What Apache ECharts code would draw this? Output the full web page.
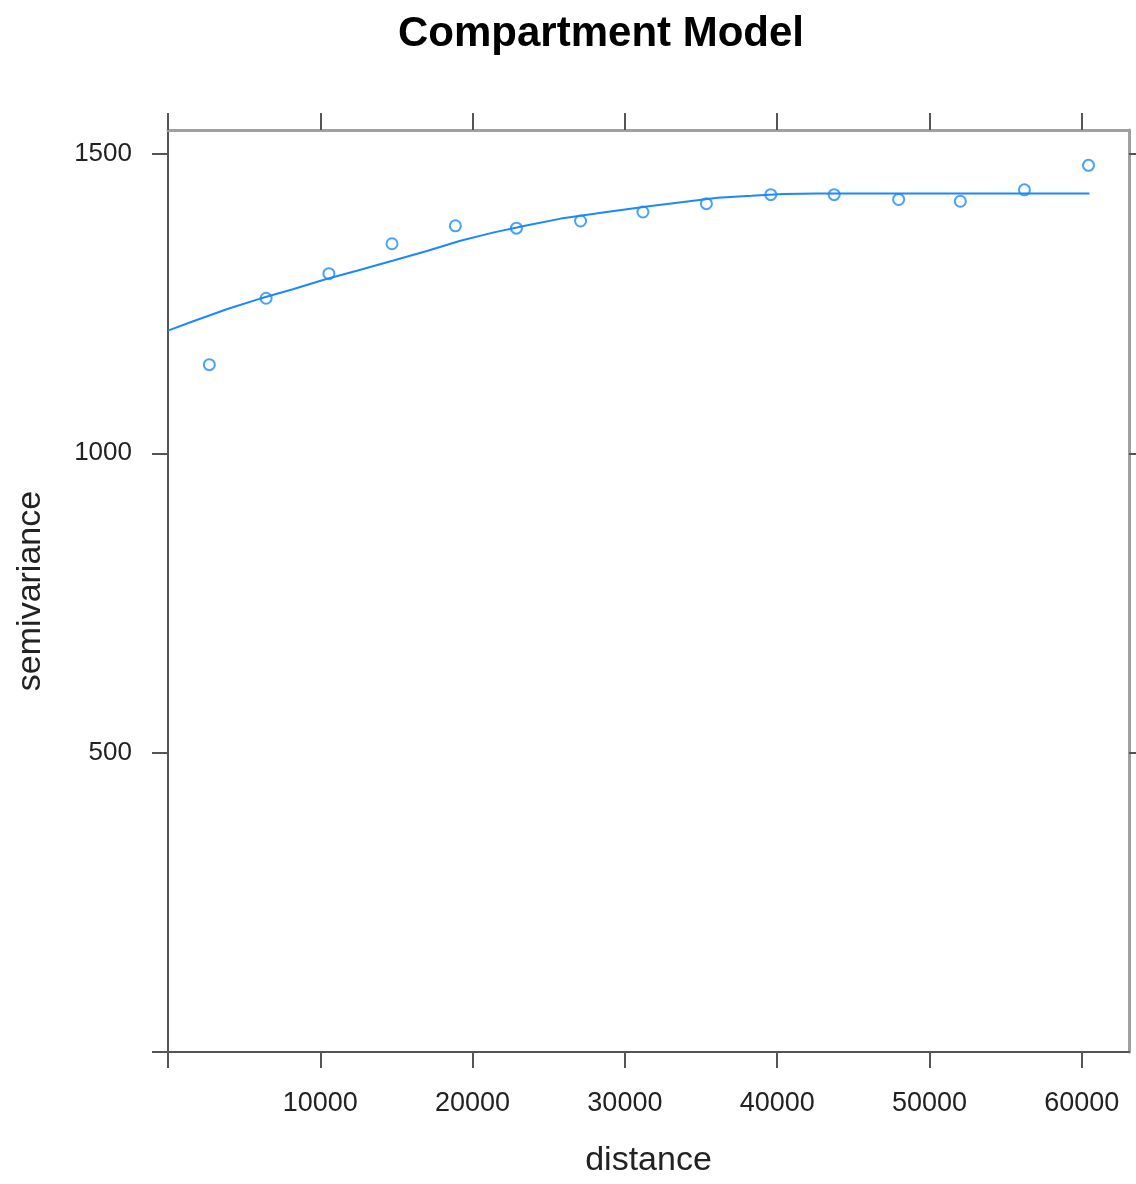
<!DOCTYPE html>
<html>
<head>
<meta charset="utf-8">
<script src="https://cdn.jsdelivr.net/npm/echarts@6/dist/echarts.min.js"></script>
<style>
html,body{margin:0;padding:0;background:#fff;}
#chart{width:1136px;height:1184px;}
</style>
</head>
<body>
<div id="chart"></div>
<script>
// Sample variogram points (distance, semivariance)
const pointDist = [2715, 6443, 10565, 14708, 18869, 22880, 27088, 31184, 35352, 39580, 43741, 47975, 52025, 56233, 60441];
const pointGamma = [1148, 1259, 1300, 1350, 1380, 1376, 1388, 1403, 1417, 1432, 1432, 1424, 1421, 1440, 1481];
// Fitted compartment model curve
const fitDist = [0, 1700, 3900, 6000, 8200, 10400, 12400, 14800, 17000, 19200, 21400, 23600, 25800, 28800, 31700, 34500, 36100, 38300, 40400, 42700, 60500];
const fitGamma = [1205, 1221, 1241, 1258, 1274, 1291, 1305, 1322, 1338, 1355, 1369, 1381, 1392, 1403, 1413, 1422, 1427, 1430, 1433, 1434, 1434];
// Ticks and tick labels
const xTicks = [0, 10000, 20000, 30000, 40000, 50000, 60000];
const xTickLabels = ['10000', '20000', '30000', '40000', '50000', '60000'];
const yTicks = [0, 500, 1000, 1500];
const yTickLabels = ['500', '1000', '1500'];

const FONT = "'Liberation Sans', Arial, Helvetica, sans-serif";
const BLUE = '#1a88ff';

const chart = echarts.init(document.getElementById('chart'), null, {renderer: 'canvas'});

const scatterData = pointDist.map((d, i) => [d, pointGamma[i]]);
const fitData = fitDist.map((d, i) => [d, fitGamma[i]]);

const xCommon = {
  type: 'value', min: 0, max: 63100, interval: 10000,
  splitLine: {show: false}
};
const yCommon = {
  type: 'value', min: 0, max: 1540, interval: 500,
  splitLine: {show: false}
};

chart.setOption({
  animation: false,
  backgroundColor: '#ffffff',
  title: {
    text: 'Compartment Model',
    left: 393, top: 8,
    textStyle: {fontFamily: FONT, fontWeight: 'bold', fontSize: 42, color: '#000'}
  },
  grid: {left: 168, right: 7, top: 130, bottom: 132, containLabel: false},
  xAxis: [
    Object.assign({}, xCommon, {
      position: 'bottom',
      name: 'distance', nameLocation: 'middle', nameGap: 92,
      nameTextStyle: {fontFamily: FONT, fontSize: 34, color: '#222'},
      axisLine: {show: true, onZero: false, lineStyle: {color: '#555', width: 2}},
      axisTick: {show: true, inside: false, length: 16, customValues: xTicks, lineStyle: {color: '#555', width: 2}},
      axisLabel: {
        show: true, margin: 38, fontFamily: FONT, fontSize: 27, color: '#222',
        customValues: xTickLabels.map(Number),
        formatter: v => xTickLabels.includes(String(v)) ? String(v) : ''
      }
    }),
    Object.assign({}, xCommon, {
      position: 'top',
      axisLine: {show: true, onZero: false, lineStyle: {color: '#a0a0a0', width: 3}},
      axisTick: {show: true, inside: false, length: 17, customValues: xTicks, lineStyle: {color: '#555', width: 2}},
      axisLabel: {show: false}
    })
  ],
  yAxis: [
    Object.assign({}, yCommon, {
      position: 'left',
      name: 'semivariance', nameLocation: 'middle', nameGap: 120,
      nameTextStyle: {fontFamily: FONT, fontSize: 34, color: '#222'},
      axisLine: {show: true, onZero: false, lineStyle: {color: '#555', width: 2}},
      axisTick: {show: true, inside: false, length: 16, customValues: yTicks, lineStyle: {color: '#555', width: 2}},
      axisLabel: {
        show: true, margin: 36, fontFamily: FONT, fontSize: 26, color: '#222',
        customValues: yTickLabels.map(Number),
        formatter: v => yTickLabels.includes(String(v)) ? String(v) : ''
      }
    }),
    Object.assign({}, yCommon, {
      position: 'right',
      axisLine: {show: true, onZero: false, lineStyle: {color: '#a0a0a0', width: 3}},
      axisTick: {show: true, inside: false, length: 16, customValues: yTicks.slice(1), lineStyle: {color: '#555', width: 2}},
      axisLabel: {show: false}
    })
  ],
  series: [
    {
      type: 'line', xAxisIndex: 0, yAxisIndex: 0,
      data: fitData, showSymbol: false, symbol: 'none', smooth: false,
      lineStyle: {color: BLUE, width: 2}, z: 2
    },
    {
      type: 'scatter', xAxisIndex: 0, yAxisIndex: 0,
      data: scatterData, symbol: 'circle', symbolSize: 11,
      itemStyle: {color: 'rgba(255,255,255,0)', borderColor: BLUE, borderWidth: 2},
      z: 3
    }
  ]
});
</script>
</body>
</html>
